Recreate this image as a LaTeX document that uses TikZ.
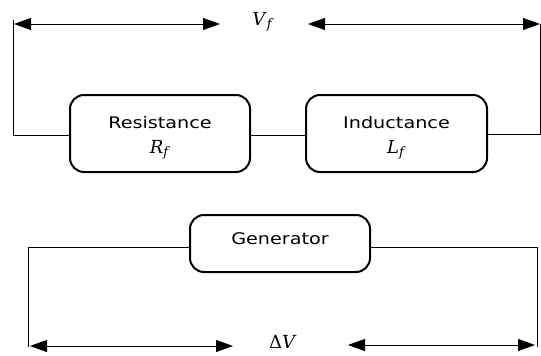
\documentclass[tikz,border=0pt]{standalone}
\usepackage{fontspec}
\newfontfamily\labfont[FakeStretch=1.2]{DejaVu Sans}
\newfontfamily\mfont{DejaVu Serif}
\usetikzlibrary{arrows.meta}
\newcommand{\msub}[2]{\textit{#1}\raisebox{-0.32ex}{\fontsize{13}{13}\selectfont\textit{#2}}}
\begin{document}
\begin{tikzpicture}[x=1pt,y=-1pt,
  blockbox/.style={draw,line width=2pt,rounded corners=14pt,minimum height=77pt,inner sep=0pt},
  wire/.style={line width=1pt},
  dim/.style={line width=1pt,{Triangle[length=17pt,width=12pt]}-{Triangle[length=17pt,width=12pt]}},
  lab/.style={font=\labfont\fontsize{16}{18}\selectfont,inner sep=0pt},
  mlab/.style={font=\mfont\fontsize{18}{20}\selectfont,inner sep=0pt}]
\useasboundingbox (0,0) rectangle (541,356);
% boxes
\node[blockbox,minimum width=180pt] (res) at (160,133.5) {};
\node[blockbox,minimum width=181pt] (ind) at (396.5,133.5) {};
\node[blockbox,minimum width=180pt,minimum height=57pt] (gen) at (280,243.5) {};
% texts
\node[lab] (rest) at (160,123) {Resistance};
\node[mlab] (resm) at (160,150) {\msub{R}{f}};
\node[lab] (indt) at (396.5,123) {Inductance};
\node[mlab] (indm) at (396.5,150) {\msub{L}{f}};
\node[lab] (gent) at (280,239) {Generator};
\node[mlab] (vf) at (263,22) {\msub{V}{f}};
\node[mlab] (dv) at (283,342) {Δ\textit{V}};
% coordinates
\coordinate (tl) at (13,20);
\coordinate (tlb) at (13,135);
\coordinate (tr) at (540,24);
\coordinate (trb) at (540,134);
\coordinate (bl) at (28,247);
\coordinate (blb) at (28,347);
\coordinate (br) at (537,247);
\coordinate (brb) at (537,347);
\coordinate (a1) at (14,24);
\coordinate (a2) at (220,24);
\coordinate (a3) at (308,24);
\coordinate (a4) at (540,24);
\coordinate (b1) at (30,346);
\coordinate (b2) at (233,346);
\coordinate (b3) at (348,345);
\coordinate (b4) at (535,345);
% wires
\draw[wire] (tl) -- (tlb) -- (res.west |- tlb);
\draw[wire] (res.east |- tlb) -- (ind.west |- tlb);
\draw[wire] (ind.east |- trb) -- (trb) -- (tr);
\draw[wire] (gen.west |- bl) -- (bl) -- (blb);
\draw[wire] (gen.east |- br) -- (br) -- (brb);
% dimension arrows
\draw[dim] (a1) -- (a2);
\draw[dim] (a3) -- (a4);
\draw[dim] (b1) -- (b2);
\draw[dim] (b3) -- (b4);
\end{tikzpicture}
\end{document}
